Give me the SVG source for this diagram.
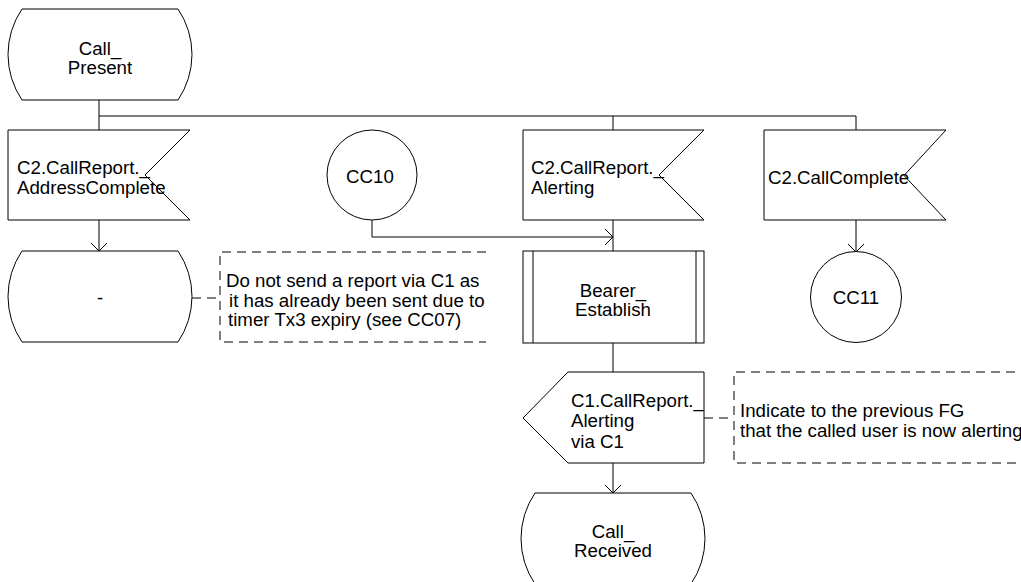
<svg xmlns="http://www.w3.org/2000/svg" width="1021" height="582" viewBox="0 0 1021 582">
<style>
.s{fill:#fff;stroke:#000;stroke-width:1}
.t{font-family:"Liberation Sans",Arial,sans-serif;font-size:18.7px;fill:#000}
.m{text-anchor:middle}
.c{fill:none;stroke:#000;stroke-width:1}
.d{fill:none;stroke:#000;stroke-width:1;stroke-dasharray:9,6}
</style>
<defs>
<marker id="arr" markerWidth="20" markerHeight="20" refX="10" refY="10" orient="auto" markerUnits="userSpaceOnUse">
<path d="M2,2 L10,10 L2,18" fill="none" stroke="#000" stroke-width="1"/>
</marker>
</defs>
<rect width="1021" height="582" fill="#fff"/>
<g id="connectors">
<path class="c" d="M99,100 V116 H613" stroke-width="2"/>
<path class="c" d="M613,116 H856 V130"/>
<path class="c" d="M99,116 V130"/>
<path class="c" d="M613,116 V130"/>
<path class="c" d="M99,220 V251" marker-end="url(#arr)"/>
<path class="c" d="M372,220 V237 H613" marker-end="url(#arr)"/>
<path class="c" d="M613,220 V251"/>
<path class="c" d="M613,343 V372"/>
<path class="c" d="M613,463 V493" marker-end="url(#arr)"/>
<path class="c" d="M856,220 V252" marker-end="url(#arr)"/>
<path class="d" d="M192,298 H220"/>
<path class="d" d="M704,418 H734"/>
</g>
<g id="call_present">
<path class="s" d="M22,9 H178 A81,81 0 0 1 178,100 H22 A81,81 0 0 1 22,9 Z"/>
<text class="t m" x="100" y="55">Call_</text>
<text class="t m" x="100" y="74">Present</text>
</g>
<g id="sig_address_complete">
<path class="s" d="M8,130 H190 L145,175 L190,220 H8 Z"/>
<text class="t" x="17" y="174">C2.CallReport._</text>
<text class="t" x="17" y="194">AddressComplete</text>
</g>
<g id="state_dash">
<path class="s" d="M22,251 H178 A81,81 0 0 1 178,342 H22 A81,81 0 0 1 22,251 Z"/>
<text class="t m" x="100" y="304">-</text>
</g>
<g id="comment1">
<path class="d" d="M486,252 H220 V342 H486"/>
<text class="t" x="226" y="287">Do not send a report via C1 as</text>
<text class="t" x="229" y="306.5">it has already been sent due to</text>
<text class="t" x="228" y="326">timer Tx3 expiry (see CC07)</text>
</g>
<g id="cc10">
<circle class="s" cx="372" cy="175" r="45"/>
<text class="t m" x="370" y="183">CC10</text>
</g>
<g id="sig_alerting">
<path class="s" d="M523,130 H704 L659,175 L704,220 H523 Z"/>
<text class="t" x="531" y="174">C2.CallReport._</text>
<text class="t" x="531" y="194">Alerting</text>
</g>
<g id="bearer_establish">
<rect class="s" x="523" y="251" width="181" height="92"/>
<path class="c" d="M533,251 V343 M696,251 V343"/>
<text class="t m" x="613" y="297">Bearer_</text>
<text class="t m" x="613" y="316">Establish</text>
</g>
<g id="out_alerting">
<path class="s" d="M523,418 L568,372 H704 V463 H568 Z"/>
<text class="t" x="571" y="407">C1.CallReport._</text>
<text class="t" x="571" y="427">Alerting</text>
<text class="t" x="571" y="448">via C1</text>
</g>
<g id="comment2">
<path class="d" d="M1030,372 H734 V463 H1030"/>
<text class="t" x="740" y="416.5">Indicate to the previous FG</text>
<text class="t" x="740" y="436.5">that the called user is now alerting</text>
</g>
<g id="call_received">
<path class="s" d="M535,493 H691 A81,81 0 0 1 691,584 H535 A81,81 0 0 1 535,493 Z"/>
<text class="t m" x="613" y="538">Call_</text>
<text class="t m" x="613" y="557">Received</text>
</g>
<g id="sig_call_complete">
<path class="s" d="M764,130 H946 L904,175.5 L946,220 H764 Z"/>
<text class="t" x="768" y="184">C2.CallComplete</text>
</g>
<g id="cc11">
<circle class="s" cx="856" cy="297" r="45.5"/>
<text class="t m" x="856" y="304">CC11</text>
</g>
</svg>
